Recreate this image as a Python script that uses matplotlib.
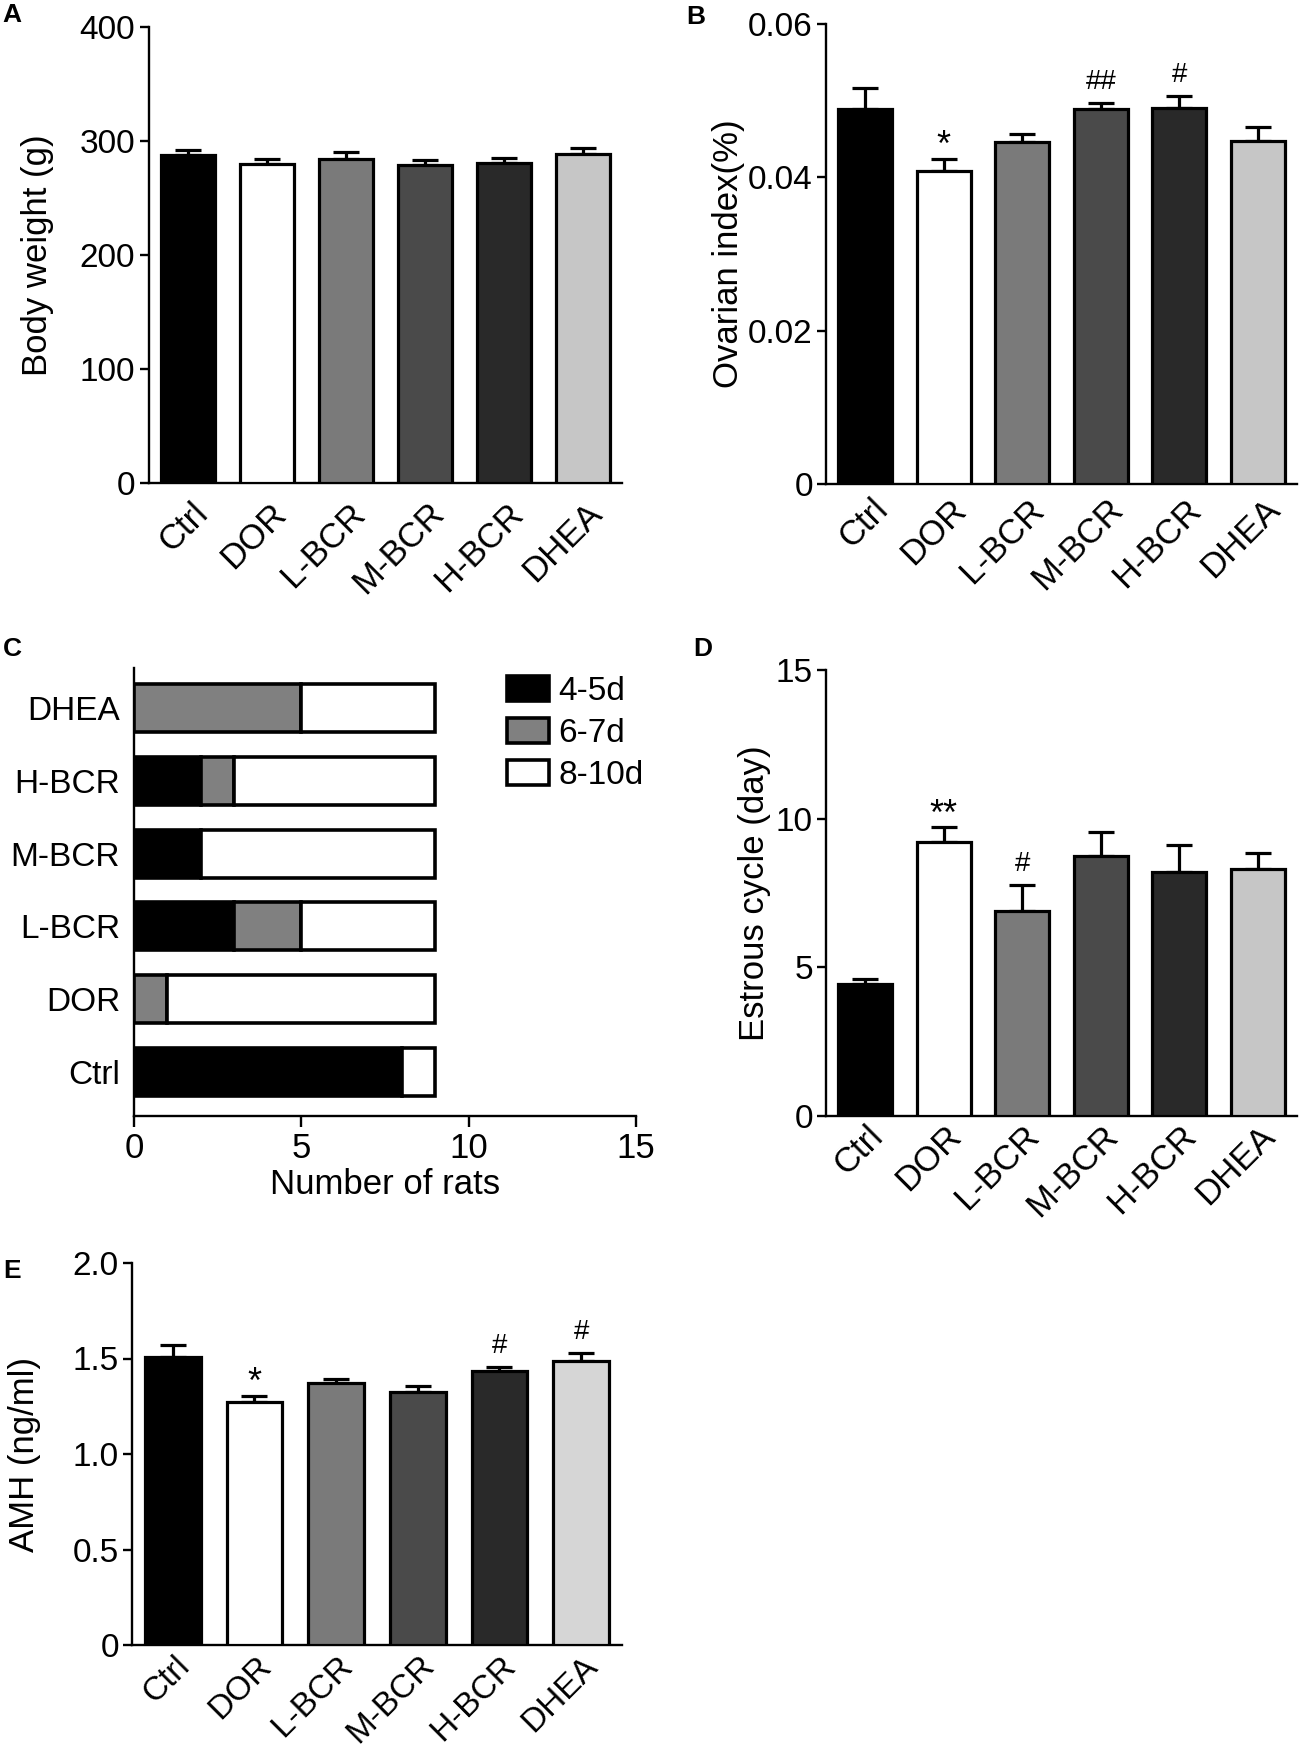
import numpy as np
import matplotlib
matplotlib.use('Agg')
import matplotlib.pyplot as plt
import matplotlib.transforms as mtransforms
from matplotlib.patches import Patch

plt.rcParams['font.family'] = ['Liberation Sans', 'DejaVu Sans']

# ---------------- data ----------------
groups = ['Ctrl', 'DOR', 'L-BCR', 'M-BCR', 'H-BCR', 'DHEA']
bar_colors = ['#000000', '#ffffff', '#7a7a7a', '#4a4a4a', '#292929', '#c6c6c6']
bar_colors_e = ['#000000', '#ffffff', '#7a7a7a', '#4a4a4a', '#292929', '#d6d6d6']

bw_mean = [288, 279.5, 284.5, 279, 281, 289]
bw_err = [4, 5, 5.5, 4, 4.5, 4.5]

ovi_mean = [0.0489, 0.0408, 0.0446, 0.0489, 0.0491, 0.0447]
ovi_err = [0.0027, 0.0016, 0.0011, 0.0008, 0.0015, 0.0019]
ovi_sig = ['', '*', '', '##', '#', '']

cyc_groups = ['Ctrl', 'DOR', 'L-BCR', 'M-BCR', 'H-BCR', 'DHEA']
n_4_5 = [8, 0, 3, 2, 2, 0]
n_6_7 = [0, 1, 2, 0, 1, 5]
n_8_10 = [1, 8, 4, 7, 6, 4]
cyc_legend = ['4-5d', '6-7d', '8-10d']
cyc_colors = ['#000000', '#808080', '#ffffff']

est_mean = [4.44, 9.21, 6.89, 8.75, 8.2, 8.3]
est_err = [0.15, 0.49, 0.86, 0.81, 0.9, 0.55]
est_sig = ['', '**', '#', '', '', '']

amh_mean = [1.508, 1.272, 1.374, 1.324, 1.432, 1.485]
amh_err = [0.063, 0.032, 0.021, 0.030, 0.023, 0.045]
amh_sig = ['', '*', '', '', '#', '#']

# ---------------- figure ----------------
W, H = 1300, 1751
fig = plt.figure(figsize=(W / 100, H / 100), dpi=100)


def px_axes(l, t, r, b):
    return fig.add_axes([l / W, 1 - b / H, (r - l) / W, (b - t) / H])


LW = 1.7
EDGE = 2.3


def style_spines(ax):
    for s in ['top', 'right']:
        ax.spines[s].set_visible(False)
    for s in ['left', 'bottom']:
        ax.spines[s].set_linewidth(LW)


def bar_panel(ax, means, errs, colors, ylim, yticks, yticklabels, ylabel,
              label_x, sig=None, lab_dx=21, lab_dy=31, xlab_size=25):
    x = np.arange(len(groups))
    ax.bar(x, means, width=0.685, color=colors, edgecolor='black',
           linewidth=EDGE, zorder=3)
    ax.errorbar(x, means, yerr=[np.zeros(len(errs)), errs], fmt='none',
                ecolor='black', elinewidth=EDGE, capsize=9.5, capthick=EDGE,
                zorder=2)
    ax.set_xlim(-0.5, 5.5)
    ax.set_ylim(*ylim)
    ax.set_yticks(yticks)
    ax.set_yticklabels(yticklabels)
    ax.set_xticks(x)
    ax.set_xticklabels(groups)
    style_spines(ax)
    ax.tick_params(axis='y', direction='out', length=6.5, width=LW,
                   labelsize=24, pad=3)
    ax.tick_params(axis='x', length=0, labelsize=xlab_size,
                   pad=lab_dy * 0.72)
    offset = mtransforms.ScaledTranslation(lab_dx / 100, 0,
                                           fig.dpi_scale_trans)
    for lbl in ax.get_xticklabels():
        lbl.set_rotation(45)
        lbl.set_rotation_mode('anchor')
        lbl.set_ha('right')
        lbl.set_va('baseline')
        lbl.set_transform(lbl.get_transform() + offset)
    ax.set_ylabel(ylabel, fontsize=25)
    ax.yaxis.set_label_coords(label_x, 0.5)
    if sig:
        for i, s in enumerate(sig):
            if not s:
                continue
            if '*' in s:
                off, fs = 2, 26
            else:
                off, fs = 10, 20
            ax.annotate(s, (x[i], means[i] + errs[i]), xytext=(0, off),
                        textcoords='offset points', ha='center',
                        va='baseline', fontsize=fs)


# A
axA = px_axes(148.5, 27, 622, 483)
bar_panel(axA, bw_mean, bw_err, bar_colors, (0, 400), [0, 100, 200, 300, 400],
          ['0', '100', '200', '300', '400'], 'Body weight (g)', -0.2,
          lab_dx=21, lab_dy=32)

# B
axB = px_axes(826, 24, 1297, 484)
bar_panel(axB, ovi_mean, ovi_err, bar_colors, (0, 0.06), [0, 0.02, 0.04, 0.06],
          ['0', '0.02', '0.04', '0.06'], 'Ovarian index(%)', -0.172, ovi_sig,
          lab_dx=24, lab_dy=27)

# C
axC = px_axes(134, 668, 636, 1115.6)
y = np.arange(len(cyc_groups))
left2 = np.array(n_4_5)
left3 = left2 + np.array(n_6_7)
for vals, lefts, col in [(n_4_5, 0, cyc_colors[0]),
                         (n_6_7, left2, cyc_colors[1]),
                         (n_8_10, left3, cyc_colors[2])]:
    v = np.array(vals)
    mask = v > 0
    axC.barh(y[mask], v[mask], left=(np.zeros(6) + lefts)[mask],
             height=0.66, color=col, edgecolor='black', linewidth=EDGE + 0.3,
             zorder=3)
axC.set_xlim(0, 15)
axC.set_ylim(-0.6, 5.55)
axC.set_xticks([0, 5, 10, 15])
axC.set_yticks(y)
axC.set_yticklabels(cyc_groups)
style_spines(axC)
axC.tick_params(axis='y', length=0, labelsize=24, pad=10)
axC.tick_params(axis='x', direction='out', length=8, width=LW, labelsize=25,
                pad=4)
axC.set_xlabel('Number of rats', fontsize=25, labelpad=2)
handles = [Patch(facecolor=c, edgecolor='black', linewidth=EDGE + 0.3, label=l)
           for c, l in zip(cyc_colors, cyc_legend)]
axC.legend(handles=handles, loc='upper left',
           bbox_to_anchor=(507 / W, 1 - 676 / H), bbox_transform=fig.transFigure,
           frameon=False, fontsize=24, borderaxespad=0, borderpad=0,
           handlelength=1.25, handleheight=0.77, handletextpad=0.3,
           labelspacing=0.33)

# D
axD = px_axes(826, 670, 1297, 1115.6)
bar_panel(axD, est_mean, est_err, bar_colors, (0, 15), [0, 5, 10, 15],
          ['0', '5', '10', '15'], 'Estrous cycle (day)', -0.117, est_sig,
          lab_dx=19, lab_dy=22)

# E
axE = px_axes(132, 1263, 622, 1645)
bar_panel(axE, amh_mean, amh_err, bar_colors_e, (0, 2.0),
          [0, 0.5, 1.0, 1.5, 2.0], ['0', '0.5', '1.0', '1.5', '2.0'],
          'AMH (ng/ml)', -0.186, amh_sig, lab_dx=18, lab_dy=22, xlab_size=24)

# panel letters
for lab, (px, py) in {'A': (2, 3), 'B': (686, 5), 'C': (3, 637),
                      'D': (693, 637), 'E': (3, 1259)}.items():
    fig.text(px / W, 1 - py / H, lab, fontsize=19, fontweight='bold',
             ha='left', va='top')

fig.savefig('out.png', dpi=100)
